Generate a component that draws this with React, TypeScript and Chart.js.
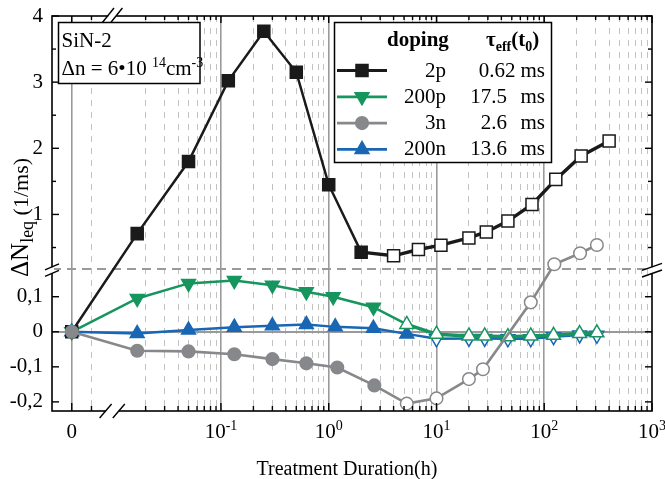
import React, { useEffect, useRef } from 'react';
import { Chart, registerables, Scale } from 'chart.js';

// ---------------- data ----------------
const timesP2 = [0, 0.0167, 0.05, 0.117, 0.25, 0.5, 1, 2, 4, 6.8, 11, 20, 29, 46, 77, 128, 220, 400];
const valuesP2 = [0, 0.71, 1.8, 3.02, 3.77, 3.15, 1.45, 0.43, 0.375, 0.47, 0.535, 0.645, 0.735, 0.9, 1.15, 1.53, 1.885, 2.11];

const timesP200 = [0, 0.0167, 0.05, 0.133, 0.3, 0.62, 1.1, 2.6, 5.3, 10, 20, 28, 46, 75, 122, 213, 308];
const valuesP200 = [0, 0.095, 0.138, 0.146, 0.133, 0.114, 0.1, 0.07, 0.021, -0.007, -0.012, -0.012, -0.014, -0.012, -0.01, -0.005, -0.003];

const timesN3 = [0, 0.0167, 0.05, 0.133, 0.3, 0.62, 1.2, 2.65, 5.3, 10, 20, 27, 75, 124, 215, 308];
const valuesN3 = [0, -0.054, -0.056, -0.064, -0.078, -0.09, -0.102, -0.153, -0.205, -0.19, -0.135, -0.107, 0.084, 0.247, 0.413, 0.538];

const timesN200 = [0, 0.0167, 0.05, 0.133, 0.3, 0.62, 1.15, 2.6, 5.3, 10, 20, 28, 46, 75, 122, 213, 308];
const valuesN200 = [0, -0.005, 0.005, 0.013, 0.017, 0.021, 0.014, 0.01, -0.006, -0.02, -0.019, -0.019, -0.02, -0.02, -0.014, -0.009, -0.01];

// number of leading filled (solid) markers per series; the rest are open
const filledP2 = 8;
const filledP200 = 8;
const filledN3 = 8;
const filledN200 = 9;

const seriesLabels = ['2p', '200p', '3n', '200n'];
const tauValues = ['0.62', '17.5', '2.6', '13.6'];
const tauUnit = 'ms';

// x ticks
const xMajorTicks = [0, 0.1, 1, 10, 100, 1000];
const xTickBase = ['0', '10', '10', '10', '10', '10'];
const xTickSup = ['', '-1', '0', '1', '2', '3'];
const xMinorTicks = [0.005,
  0.02, 0.03, 0.04, 0.05, 0.06, 0.07, 0.08, 0.09,
  0.2, 0.3, 0.4, 0.5, 0.6, 0.7, 0.8, 0.9,
  2, 3, 4, 5, 6, 7, 8, 9,
  20, 30, 40, 50, 60, 70, 80, 90,
  200, 300, 400, 500, 600, 700, 800, 900];

// y ticks
const yMajorTicks = [-0.2, -0.1, 0, 0.1, 1, 2, 3, 4];
const yMinorTicks = [0.5, 1.5, 2.5, 3.5];

// ---------------- broken axes definition ----------------
const X_LIN_MIN = -0.005;
const X_LIN_MAX = 0.0105;
const X_LOG_MIN = 0.01;
const X_LOG_MAX = 1000;
const X_SPLIT = 0.102;

const Y_MIN = -0.226;
const Y_BREAK = 0.18;
const Y_MAX = 4.0;
const Y_SPLIT = 0.3603;

class BrokenLogXScale extends Scale {
  static id = 'brokenLogX';
  static defaults = {};
  determineDataLimits() {
    (this as any).min = X_LIN_MIN;
    (this as any).max = X_LOG_MAX;
  }
  buildTicks() {
    const vals = [...xMajorTicks, ...xMinorTicks].sort((a, b) => a - b);
    return vals.map((v) => ({ value: v }));
  }
  getLabelForValue(v: number) {
    return String(v);
  }
  getPixelForValue(v: number) {
    let f;
    if (v < X_LOG_MIN) {
      f = ((v - X_LIN_MIN) / (X_LIN_MAX - X_LIN_MIN)) * X_SPLIT;
    } else {
      f = X_SPLIT + ((Math.log10(v) - Math.log10(X_LOG_MIN)) / (Math.log10(X_LOG_MAX) - Math.log10(X_LOG_MIN))) * (1 - X_SPLIT);
    }
    return (this as any).getPixelForDecimal(f);
  }
  getValueForPixel(p: number) {
    const f = (this as any).getDecimalForPixel(p);
    if (f < X_SPLIT) return X_LIN_MIN + (f / X_SPLIT) * (X_LIN_MAX - X_LIN_MIN);
    return Math.pow(10, Math.log10(X_LOG_MIN) + ((f - X_SPLIT) / (1 - X_SPLIT)) * (Math.log10(X_LOG_MAX) - Math.log10(X_LOG_MIN)));
  }
}

class BrokenYScale extends Scale {
  static id = 'brokenY';
  static defaults = {};
  determineDataLimits() {
    (this as any).min = Y_MIN;
    (this as any).max = Y_MAX;
  }
  buildTicks() {
    const vals = [...yMajorTicks, ...yMinorTicks, Y_BREAK].sort((a, b) => a - b);
    return vals.map((v) => ({ value: v }));
  }
  getLabelForValue(v: number) {
    return String(v);
  }
  getPixelForValue(v: number) {
    let f;
    if (v <= Y_BREAK) f = ((v - Y_MIN) / (Y_BREAK - Y_MIN)) * Y_SPLIT;
    else f = Y_SPLIT + ((v - Y_BREAK) / (Y_MAX - Y_BREAK)) * (1 - Y_SPLIT);
    return (this as any).getPixelForDecimal(f);
  }
  getValueForPixel(p: number) {
    const f = (this as any).getDecimalForPixel(p);
    if (f <= Y_SPLIT) return Y_MIN + (f / Y_SPLIT) * (Y_BREAK - Y_MIN);
    return Y_BREAK + ((f - Y_SPLIT) / (1 - Y_SPLIT)) * (Y_MAX - Y_BREAK);
  }
}

Chart.register(...registerables, BrokenLogXScale, BrokenYScale);

// ---------------- styles ----------------
const FONT = '"Liberation Serif", "Times New Roman", serif';
const C_BLACK = '#1a1a1a';
const C_GREEN = '#16965e';
const C_GRAY = '#87888b';
const C_BLUE = '#1967b4';

const pts = (ts: number[], vs: number[]) => ts.map((t, i) => ({ x: t, y: vs[i] }));
const fills = (n: number, filled: number, color: string) => Array.from({ length: n }, (_, i) => (i < filled ? color : '#ffffff'));

function drawMarker(ctx: CanvasRenderingContext2D, style: string, x: number, y: number, r: number, rotDeg: number, fill: string, stroke: string, lw: number) {
  ctx.save();
  ctx.beginPath();
  if (style === 'rect') {
    const s = r * Math.SQRT1_2;
    ctx.rect(x - s, y - s, 2 * s, 2 * s);
  } else if (style === 'circle') {
    ctx.arc(x, y, r, 0, Math.PI * 2);
  } else {
    let rad = (rotDeg * Math.PI) / 180;
    ctx.moveTo(x + Math.sin(rad) * r, y - Math.cos(rad) * r);
    rad += (2 * Math.PI) / 3;
    ctx.lineTo(x + Math.sin(rad) * r, y - Math.cos(rad) * r);
    rad += (2 * Math.PI) / 3;
    ctx.lineTo(x + Math.sin(rad) * r, y - Math.cos(rad) * r);
    ctx.closePath();
  }
  ctx.fillStyle = fill;
  ctx.fill();
  ctx.lineWidth = lw;
  ctx.strokeStyle = stroke;
  ctx.stroke();
  ctx.restore();
}

type Run = { t: string; size: number; bold?: boolean; dy?: number };
function runsWidth(ctx: CanvasRenderingContext2D, runs: Run[]) {
  let w = 0;
  for (const r of runs) {
    ctx.font = `${r.bold ? 'bold ' : ''}${r.size}px ${FONT}`;
    w += ctx.measureText(r.t).width;
  }
  return w;
}
function drawRuns(ctx: CanvasRenderingContext2D, runs: Run[], x: number, y: number) {
  ctx.textAlign = 'left';
  ctx.textBaseline = 'alphabetic';
  for (const r of runs) {
    ctx.font = `${r.bold ? 'bold ' : ''}${r.size}px ${FONT}`;
    ctx.fillText(r.t, x, y + (r.dy || 0));
    x += ctx.measureText(r.t).width;
  }
  return x;
}

const line = (ctx: CanvasRenderingContext2D, x1: number, y1: number, x2: number, y2: number) => {
  ctx.beginPath();
  ctx.moveTo(x1, y1);
  ctx.lineTo(x2, y2);
  ctx.stroke();
};

const decorPlugin = {
  id: 'decor',
  afterDatasetsDraw(chart: any) {
    const { ctx, chartArea } = chart;
    const { left, right, top, bottom } = chartArea;
    const xs = chart.scales.x;
    const ys = chart.scales.y;
    ctx.save();

    // frame
    ctx.strokeStyle = '#000';
    ctx.lineWidth = 1.6;
    ctx.strokeRect(left, top, right - left, bottom - top);

    // inward ticks
    ctx.lineWidth = 1.4;
    for (const v of xMajorTicks) {
      const p = xs.getPixelForValue(v);
      line(ctx, p, bottom, p, bottom - 8);
      line(ctx, p, top, p, top + 7);
    }
    for (const v of xMinorTicks) {
      const p = xs.getPixelForValue(v);
      line(ctx, p, bottom, p, bottom - 5);
      line(ctx, p, top, p, top + 4);
    }
    for (const v of yMajorTicks) {
      const p = ys.getPixelForValue(v);
      line(ctx, left, p, left + 7, p);
      line(ctx, right, p, right - 7, p);
    }
    for (const v of yMinorTicks) {
      const p = ys.getPixelForValue(v);
      line(ctx, left, p, left + 4, p);
      line(ctx, right, p, right - 4, p);
    }

    // x break marks
    const bx = xs.getPixelForDecimal(X_SPLIT) - 1;
    ctx.fillStyle = '#fff';
    ctx.fillRect(bx - 6.5, bottom - 2, 13, 4);
    ctx.fillRect(bx - 4, top - 2, 8, 4);
    ctx.strokeStyle = '#000';
    ctx.lineWidth = 1.4;
    for (const d of [-6.6, 6.6]) line(ctx, bx + d - 6, bottom + 7, bx + d + 6, bottom - 7);
    for (const d of [-4.2, 4.2]) line(ctx, bx + d - 6, top + 7, bx + d + 6, top - 8);

    // y break marks
    const by = ys.getPixelForValue(Y_BREAK) + 1.5;
    ctx.fillStyle = '#fff';
    ctx.fillRect(left - 2, by - 3, 4, 6);
    ctx.fillRect(right - 2, by - 3, 4, 6);
    for (const d of [-3.3, 3.3]) {
      line(ctx, left - 7, by + d + 3, left + 7, by + d - 3);
      line(ctx, right - 10, by + d + 3.5, right + 10, by + d - 3.5);
    }

    // x tick labels
    ctx.fillStyle = '#000';
    for (let i = 0; i < xMajorTicks.length; i++) {
      const p = xs.getPixelForValue(xMajorTicks[i]);
      const runs: Run[] = [{ t: xTickBase[i], size: 21 }];
      if (xTickSup[i]) runs.push({ t: xTickSup[i], size: 14, dy: -8 });
      const w = runsWidth(ctx, runs);
      drawRuns(ctx, runs, p - w / 2, 438);
    }

    // x axis title
    ctx.font = `20px ${FONT}`;
    ctx.textAlign = 'center';
    ctx.textBaseline = 'alphabetic';
    ctx.fillText('Treatment Duration(h)', 347, 475);

    // y axis title (rotated)
    ctx.save();
    ctx.translate(28, 277);
    ctx.rotate(-Math.PI / 2);
    drawRuns(ctx, [
      { t: 'ΔN', size: 25 },
      { t: 'leq', size: 18, dy: 5 },
      { t: ' (1/ms)', size: 22 },
    ], 0, 0);
    ctx.restore();

    // info box
    ctx.fillStyle = '#fff';
    ctx.fillRect(58.5, 22.5, 141.5, 61);
    ctx.strokeStyle = '#000';
    ctx.lineWidth = 1.5;
    ctx.strokeRect(58.5, 22.5, 141.5, 61);
    ctx.fillStyle = '#000';
    drawRuns(ctx, [{ t: 'SiN-2', size: 21 }], 61.5, 47);
    drawRuns(ctx, [
      { t: 'Δn = 6•10 ', size: 21 },
      { t: '14', size: 14, dy: -8 },
      { t: 'cm', size: 21 },
      { t: '-3', size: 14, dy: -8 },
    ], 61.5, 75);

    // legend box
    const lx = 334.5, ly = 22.5, lw = 217, lh = 140;
    ctx.fillStyle = '#fff';
    ctx.fillRect(lx, ly, lw, lh);
    ctx.strokeStyle = '#000';
    ctx.lineWidth = 1.5;
    ctx.strokeRect(lx, ly, lw, lh);
    ctx.fillStyle = '#000';
    drawRuns(ctx, [{ t: 'doping', size: 21, bold: true }], 387, 46);
    drawRuns(ctx, [
      { t: 'τ', size: 21, bold: true },
      { t: 'eff', size: 14, bold: true, dy: 5 },
      { t: '(t', size: 21, bold: true },
      { t: '0', size: 14, bold: true, dy: 5 },
      { t: ')', size: 21, bold: true },
    ], 486, 46);

    const dsets = chart.data.datasets;
    for (let i = 0; i < dsets.length; i++) {
      const ds = dsets[i];
      const cy = 70.5 + i * 26.3;
      ctx.strokeStyle = ds.borderColor;
      ctx.lineWidth = 2.8;
      line(ctx, 337, cy, 387, cy);
      const rot = Array.isArray(ds.pointRotation) ? ds.pointRotation[0] : ds.pointRotation || 0;
      drawMarker(ctx, ds.pointStyle, 362, cy, ds.pointRadius, rot, ds.borderColor, ds.borderColor, 1.5);
      ctx.fillStyle = '#000';
      ctx.font = `21px ${FONT}`;
      ctx.textBaseline = 'alphabetic';
      ctx.textAlign = 'right';
      ctx.fillText(seriesLabels[i], 446, cy + 6);
      ctx.fillText(tauValues[i], i === 0 ? 515.5 : 507, cy + 6);
      ctx.textAlign = 'left';
      ctx.fillText(tauUnit, 520.5, cy + 6);
    }

    ctx.restore();
  },
};

export default function App() {
  const ref = useRef<HTMLCanvasElement>(null);

  useEffect(() => {
    const isXMajor = (v: number) => xMajorTicks.includes(v);
    const chart = new Chart(ref.current as HTMLCanvasElement, {
      type: 'line',
      data: {
        datasets: [
          {
            label: seriesLabels[0],
            data: pts(timesP2, valuesP2),
            borderColor: C_BLACK,
            borderWidth: 2.5,
            segment: { borderWidth: (c: any) => (c.p0DataIndex >= filledP2 - 1 ? 3.4 : 2.5) },
            pointStyle: 'rect',
            pointRadius: 8.5,
            pointBorderWidth: 1.5,
            pointBorderColor: C_BLACK,
            pointBackgroundColor: fills(timesP2.length, filledP2, C_BLACK),
            order: 1,
            clip: false,
          } as any,
          {
            label: seriesLabels[1],
            data: pts(timesP200, valuesP200),
            borderColor: C_GREEN,
            borderWidth: 2.5,
            segment: { borderWidth: (c: any) => (c.p0DataIndex >= filledP200 ? 3.4 : 2.5) },
            pointStyle: 'triangle',
            pointRadius: 8,
            pointRotation: timesP200.map((_, i) => (i < filledP200 ? 180 : 0)),
            pointBorderWidth: 1.5,
            pointBorderColor: C_GREEN,
            pointBackgroundColor: fills(timesP200.length, filledP200, C_GREEN),
            order: 2,
            clip: false,
          } as any,
          {
            label: seriesLabels[2],
            data: pts(timesN3, valuesN3),
            borderColor: C_GRAY,
            borderWidth: 2.6,
            pointStyle: 'circle',
            pointRadius: 6.3,
            pointBorderWidth: 1.5,
            pointBorderColor: C_GRAY,
            pointBackgroundColor: fills(timesN3.length, filledN3, C_GRAY),
            order: 0,
            clip: false,
          } as any,
          {
            label: seriesLabels[3],
            data: pts(timesN200, valuesN200),
            borderColor: C_BLUE,
            borderWidth: 2.5,
            pointStyle: 'triangle',
            pointRadius: 8,
            pointRotation: timesN200.map((_, i) => (i < filledN200 ? 0 : 180)),
            pointBorderWidth: 1.5,
            pointBorderColor: C_BLUE,
            pointBackgroundColor: fills(timesN200.length, filledN200, C_BLUE),
            order: 3,
            clip: false,
          } as any,
        ],
      },
      options: {
        responsive: false,
        animation: false,
        devicePixelRatio: 1,
        layout: { padding: { left: 0, right: 13, top: 16, bottom: 68 } },
        plugins: { legend: { display: false }, tooltip: { enabled: false } },
        events: [],
        scales: {
          x: {
            type: 'brokenLogX',
            position: 'bottom',
            afterFit: (s: any) => {
              s.height = 0;
            },
            grid: {
              drawTicks: false,
              color: (c: any) => {
                if (!c.tick) return 'rgba(0,0,0,0)';
                const v = c.tick.value;
                if (v === 1000) return 'rgba(0,0,0,0)';
                return isXMajor(v) ? '#9a9a9a' : '#c2c2c2';
              },
              lineWidth: (c: any) => (c.tick && isXMajor(c.tick.value) ? 1.6 : 1),
            },
            border: {
              display: false,
              dash: (c: any) => (c.tick && !isXMajor(c.tick.value) ? [6, 6] : []),
            },
            ticks: { display: false, autoSkip: false },
          } as any,
          y: {
            type: 'brokenY',
            position: 'left',
            afterFit: (s: any) => {
              s.width = 52;
              s.paddingTop = 0;
              s.paddingBottom = 0;
            },
            grid: {
              drawTicks: false,
              color: (c: any) => {
                if (!c.tick) return 'rgba(0,0,0,0)';
                const v = c.tick.value;
                if (v === 0) return '#9a9a9a';
                if (v === Y_BREAK) return '#9a9a9a';
                return 'rgba(0,0,0,0)';
              },
              lineWidth: (c: any) => (c.tick && (c.tick.value === 0 || c.tick.value === Y_BREAK) ? 2 : 0),
            },
            border: {
              display: false,
              dash: (c: any) => (c.tick && c.tick.value === Y_BREAK ? [9, 6] : []),
            },
            ticks: {
              autoSkip: false,
              padding: 9,
              color: '#000',
              font: { family: FONT, size: 21 },
              callback: (v: any) => (yMajorTicks.includes(v) ? String(v).replace('.', ',') : ''),
            },
          } as any,
        },
      },
      plugins: [decorPlugin],
    } as any);
    return () => chart.destroy();
  }, []);

  return (
    <div style={{ position: 'fixed', left: 0, top: 0, width: 665, height: 479, background: '#fff' }}>
      <canvas ref={ref} width={665} height={479} style={{ display: 'block', width: 665, height: 479 }} />
    </div>
  );
}
